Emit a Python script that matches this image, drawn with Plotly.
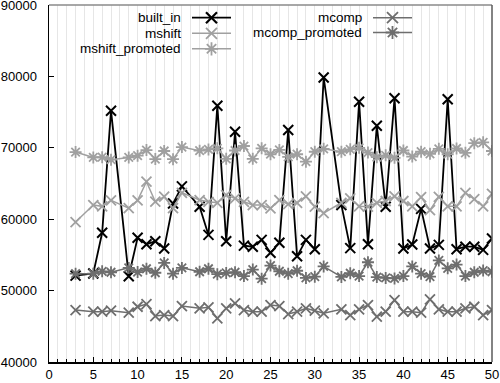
import plotly.graph_objects as go

x_vals = [3, 5, 6, 7, 9, 10, 11, 12, 13, 14, 15, 17, 18, 19, 20, 21, 22, 23, 24, 25, 26, 27, 28, 29, 30, 31,
          33, 34, 35, 36, 37, 38, 39, 40, 41, 42, 43, 44, 45, 46, 47, 48, 49, 50]

built_in = [52100, 52400, 58100, 75200, 52000, 57400, 56500, 56900, 55900, 62200, 64600, 61750, 57800, 75900,
            56900, 72250, 56300, 56150, 57100, 55300, 56700, 72500, 54800, 57100, 55800, 79850,
            62000, 55950, 76450, 56500, 73100, 61750, 76950, 55900, 56450, 61450, 55900, 56400, 76800, 55800,
            56150, 56150, 55700, 57300]

mshift = [59600, 61980, 61800, 62650, 61550, 62650, 65250, 62450, 63150, 61550, 63700, 62680, 62440, 62300,
          63380, 62910, 62440, 61980, 61980, 61520, 62680, 62100, 62300, 63200, 61750, 60850,
          62300, 62910, 61800, 61750, 62300, 62550, 63200, 62550, 61800, 63100, 61280, 63140, 61800, 61800,
          63700, 62800, 61800, 63550]

mshift_promoted = [69400, 68650, 68680, 68330, 68650, 68900, 69680, 68420, 69550, 68400, 70100, 69600, 69770,
                   69920, 68460, 69620, 70250, 68450, 69920, 69100, 69700, 68720, 69100, 68050, 69450, 69850,
                   69450, 69780, 69990, 69330, 68680, 68950, 68600, 69620, 68770, 69450, 69150, 69850, 69100,
                   69900, 69300, 70650, 70770, 69550]

mcomp = [47280, 47040, 47040, 47180, 46900, 47740, 48120, 46440, 46580, 46440, 47840, 47520, 47660, 46120,
         47520, 48210, 47280, 47040, 47040, 47980, 47840, 46720, 47040, 47520, 47180, 46820,
         47380, 46580, 47380, 47980, 46340, 47040, 48680, 47040, 47040, 46900, 48780, 47380, 47040, 47040,
         47520, 47740, 46580, 47280]

mcomp_promoted = [52370, 52370, 52700, 52570, 53180, 52600, 53060, 52500, 53880, 52370, 53180, 52640, 53060,
                  52300, 52480, 52570, 52040, 52940, 51670, 53500, 52710, 52370, 52780, 51780, 51950, 53390,
                  51920, 52430, 52040, 53970, 51900, 51780, 51710, 52040, 53390, 52370, 51970, 54230, 53120,
                  53650, 52040, 52570, 52800, 52640]

series_names = ["built_in", "mshift", "mshift_promoted", "mcomp", "mcomp_promoted"]
series_data = [built_in, mshift, mshift_promoted, mcomp, mcomp_promoted]
colors = ["#000000", "#a0a0a0", "#a0a0a0", "#6e6e6e", "#6e6e6e"]
symbols = ["x-thin-open", "x-thin-open", "asterisk-open", "x-thin-open", "asterisk-open"]
lwidths = [1.8, 1.5, 1.5, 1.5, 1.5]

W, H = 500, 383
L, R, T, B = 49, 8, 5, 21
PW, PH = W - L - R, H - T - B

fig = go.Figure()
for name, ys, c, s, lw in zip(series_names, series_data, colors, symbols, lwidths):
    fig.add_trace(go.Scatter(
        x=x_vals, y=ys, mode="lines+markers", name=name, showlegend=False,
        line=dict(color=c, width=lw),
        marker=dict(symbol=s, size=10, color=c, line=dict(color=c, width=2 if c == "#000000" else 1.8)),
    ))

# custom gnuplot-style key (text left of sample) drawn on a pixel-scaled overlay axis
legend_rows = [
    ("built_in", 183, 192, 231, 17.7),
    ("mshift", 183, 192, 231, 33.3),
    ("mshift_promoted", 183, 192, 231, 48.8),
    ("mcomp", 364, 373, 412, 17.7),
    ("mcomp_promoted", 364, 373, 412, 32.5),
]
for (name, tx, lx0, lx1, ly), c, s, lw in zip(legend_rows, colors, symbols, lwidths):
    fig.add_trace(go.Scatter(x=[lx0, lx1], y=[ly, ly], mode="lines", xaxis="x2", yaxis="y2",
                             line=dict(color=c, width=lw), showlegend=False, hoverinfo="skip"))
    fig.add_trace(go.Scatter(x=[(lx0 + lx1) / 2], y=[ly], mode="markers", xaxis="x2", yaxis="y2",
                             marker=dict(symbol=s, size=11, color=c,
                                         line=dict(color=c, width=2.2 if c == "#000000" else 1.8)),
                             showlegend=False, hoverinfo="skip"))
    fig.add_annotation(x=tx, y=ly, xref="x2", yref="y2", text=name, showarrow=False,
                       xanchor="right", yanchor="middle",
                       font=dict(family="Liberation Sans, Arial, sans-serif", size=13.5, color="#000"))

# opaque key background
fig.add_shape(type="rect", xref="paper", yref="paper",
              x0=0.002, x1=(420 - L) / PW, y0=(H - B - 57) / PH, y1=0.998,
              fillcolor="white", line=dict(width=0), layer="between")
# top and right frame (gray)
fig.add_shape(type="line", xref="paper", yref="paper", x0=0, x1=1, y0=1, y1=1,
              line=dict(color="#8a8a8a", width=1.5), layer="above")
fig.add_shape(type="line", xref="paper", yref="paper", x0=1, x1=1, y0=0, y1=1,
              line=dict(color="#5a5a5a", width=1.5), layer="above")

font = dict(family="Liberation Sans, Arial, sans-serif", size=13, color="#000")
fig.update_layout(
    width=W, height=H, margin=dict(l=L, r=R, t=T, b=B, autoexpand=False),
    paper_bgcolor="white", plot_bgcolor="white", font=font, showlegend=False,
    xaxis=dict(range=[0, 50], tick0=0, dtick=5, ticks="inside", ticklen=5, tickcolor="#000",
               showgrid=True, gridcolor="#e6e6e6", gridwidth=1, zeroline=False,
               showline=True, linecolor="#000", linewidth=1.5, automargin=False,
               minor=dict(dtick=1, tick0=0, showgrid=True, gridcolor="#e6e6e6", gridwidth=1,
                          ticks="inside", ticklen=3, tickcolor="#000"),
               tickfont=font, ticklabeloverflow="allow", ticklabelstandoff=0),
    yaxis=dict(range=[40000, 90000], tick0=40000, dtick=10000, ticks="inside", ticklen=5, tickcolor="#000",
               showgrid=False, zeroline=False, showline=True, linecolor="#000", linewidth=1.5,
               automargin=False,
               tickformat="d", tickfont=font, ticklabeloverflow="allow", ticklabelstandoff=8),
    xaxis2=dict(range=[L, W - R], overlaying="x", visible=False, fixedrange=True, automargin=False),
    yaxis2=dict(range=[H - B, T], overlaying="y", visible=False, fixedrange=True, automargin=False),
)

fig.write_html("out.html", config={"displayModeBar": False, "staticPlot": True},
               post_script="document.body.style.margin='0';document.body.style.overflow='hidden';")
